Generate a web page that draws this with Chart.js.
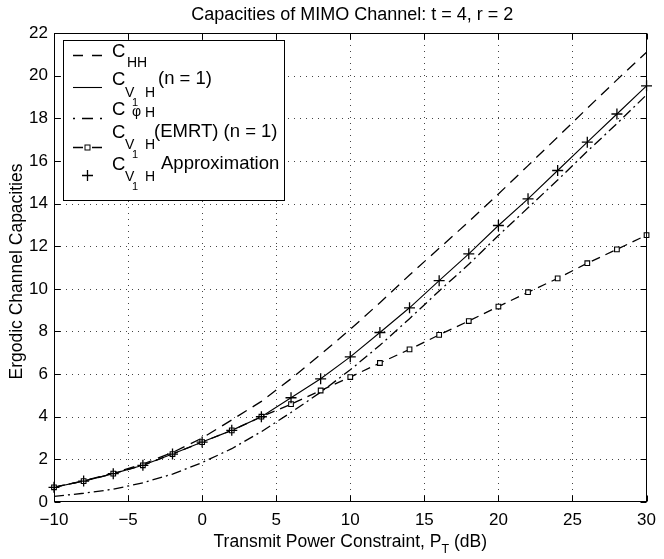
<!DOCTYPE html>
<html>
<head>
<meta charset="utf-8">
<script src="https://cdn.jsdelivr.net/npm/chart.js@4/dist/chart.umd.min.js"></script>
<style>
  html, body { margin: 0; padding: 0; background: #fff; }
  canvas { display: block; }
</style>
</head>
<body>
<canvas id="chart" width="664" height="559"></canvas>
<script>
// Transmit power constraint (dB)
const powerDb = [-10, -8, -6, -4, -2, 0, 2, 4, 6, 8, 10, 12, 14, 16, 18, 20, 22, 24, 26, 28, 30];
// Ergodic capacities of each scheme
const capHH     = [0.70, 0.99, 1.36, 1.78, 2.32, 3.00, 3.85, 4.72, 5.78, 6.92, 8.10, 9.35, 10.65, 11.90, 13.15, 14.45, 15.78, 17.12, 18.47, 19.80, 21.10];
const capV1H    = [0.69, 0.98, 1.33, 1.72, 2.25, 2.81, 3.36, 4.00, 4.89, 5.78, 6.81, 7.95, 9.11, 10.38, 11.64, 12.97, 14.22, 15.55, 16.88, 18.20, 19.52];
const capPhiH   = [0.26, 0.41, 0.60, 0.90, 1.31, 1.85, 2.50, 3.30, 4.20, 5.15, 6.20, 7.35, 8.60, 9.90, 11.15, 12.50, 13.80, 15.10, 16.45, 17.75, 19.10];
const capEMRT   = [0.69, 0.98, 1.33, 1.72, 2.25, 2.81, 3.36, 4.00, 4.59, 5.23, 5.86, 6.52, 7.16, 7.84, 8.49, 9.17, 9.84, 10.49, 11.20, 11.85, 12.52];
const capApprox = [0.69, 0.98, 1.33, 1.72, 2.25, 2.81, 3.36, 4.00, 4.89, 5.78, 6.81, 7.95, 9.11, 10.38, 11.64, 12.97, 14.22, 15.55, 16.88, 18.20, 19.52];
// Axis ticks
const xTickValues = [-10, -5, 0, 5, 10, 15, 20, 25, 30];
const yTickValues = [0, 2, 4, 6, 8, 10, 12, 14, 16, 18, 20, 22];

const FONT = '"Liberation Sans", Arial, Helvetica, sans-serif';
const pts = ys => powerDb.map((x, i) => ({ x, y: ys[i] }));

function txt(ctx, s, x, y, size) {
  ctx.font = size + 'px ' + FONT;
  ctx.fillText(s, x, y);
  return x + ctx.measureText(s).width;
}

function drawCross(ctx, x, y, r) {
  ctx.beginPath();
  ctx.moveTo(x - r, y); ctx.lineTo(x + r, y);
  ctx.moveTo(x, y - r); ctx.lineTo(x, y + r);
  ctx.stroke();
}

const framePlugin = {
  id: 'matlabFrame',
  beforeDatasetsDraw(chart) {
    const { ctx, chartArea: a, scales: { x, y } } = chart;
    ctx.save();
    ctx.strokeStyle = '#444';
    ctx.lineWidth = 1;
    ctx.setLineDash([1, 5]);
    xTickValues.slice(1, -1).forEach(v => {
      const px = Math.round(x.getPixelForValue(v)) + 0.5;
      ctx.beginPath(); ctx.moveTo(px, a.bottom); ctx.lineTo(px, a.top); ctx.stroke();
    });
    yTickValues.slice(1, -1).forEach(v => {
      const py = Math.round(y.getPixelForValue(v)) + 0.5;
      ctx.beginPath(); ctx.moveTo(a.left, py); ctx.lineTo(a.right, py); ctx.stroke();
    });
    ctx.restore();
  },
  afterDatasetsDraw(chart) {
    const { ctx, chartArea: a, scales: { x, y } } = chart;
    ctx.save();
    ctx.strokeStyle = '#000';
    ctx.lineWidth = 1;
    ctx.setLineDash([]);
    const L = Math.round(a.left) + 0.5, R = Math.round(a.right) - 0.5;
    const T = Math.round(a.top) + 0.5, B = Math.round(a.bottom) - 0.5;
    ctx.strokeRect(L, T, R - L, B - T);
    const tk = 6;
    ctx.beginPath();
    xTickValues.forEach(v => {
      const px = Math.round(x.getPixelForValue(v)) + 0.5;
      ctx.moveTo(px, B); ctx.lineTo(px, B - tk);
      ctx.moveTo(px, T); ctx.lineTo(px, T + tk);
    });
    yTickValues.forEach(v => {
      const py = Math.round(y.getPixelForValue(v)) + 0.5;
      ctx.moveTo(L, py); ctx.lineTo(L + tk, py);
      ctx.moveTo(R, py); ctx.lineTo(R - tk, py);
    });
    ctx.stroke();

    // Legend box
    const bx = 63.5, by = 40.5, bw = 221, bh = 160;
    ctx.fillStyle = '#fff';
    ctx.fillRect(bx, by, bw, bh);
    ctx.strokeRect(bx, by, bw, bh);

    const sx0 = 73, sx1 = 102, sxm = 87.5;
    ctx.lineWidth = 1.3;
    // C_HH sample: dashed
    ctx.setLineDash([10, 9]);
    ctx.beginPath(); ctx.moveTo(sx0, 55.5); ctx.lineTo(sx1, 55.5); ctx.stroke();
    // C_V1H sample: solid
    ctx.setLineDash([]);
    ctx.lineWidth = 1.1;
    ctx.beginPath(); ctx.moveTo(sx0, 87.5); ctx.lineTo(sx1, 87.5); ctx.stroke();
    // C_phiH sample: dash-dot
    ctx.lineWidth = 1.3;
    ctx.setLineDash([2, 7, 11, 7, 2, 20]);
    ctx.beginPath(); ctx.moveTo(sx0, 118.5); ctx.lineTo(sx1 + 1, 118.5); ctx.stroke();
    // EMRT sample: dashed with square
    ctx.setLineDash([]);
    ctx.beginPath();
    ctx.moveTo(sx0, 147.5); ctx.lineTo(sx0 + 10, 147.5);
    ctx.moveTo(sx1 - 10, 147.5); ctx.lineTo(sx1, 147.5);
    ctx.stroke();
    ctx.lineWidth = 1;
    ctx.fillStyle = '#fff';
    ctx.fillRect(sxm - 2.5, 145, 5, 5);
    ctx.strokeRect(sxm - 2.5, 145, 5, 5);
    // Approximation sample: plus
    ctx.lineWidth = 1.3;
    drawCross(ctx, sxm, 175.5, 5.5);

    // Legend labels
    ctx.fillStyle = '#000';
    ctx.textBaseline = 'alphabetic';
    ctx.textAlign = 'left';
    const M = 18.5, S = 14, SS = 11;
    txt(ctx, 'C', 112, 57, M);
    txt(ctx, 'HH', 127, 67, S);

    const v1h = (base, subBase, tailText, tailX) => {
      txt(ctx, 'C', 112, base, M);
      txt(ctx, 'V', 125, subBase, S);
      txt(ctx, '1', 132, subBase + 9, SS);
      txt(ctx, 'H', 145, subBase, S);
      txt(ctx, tailText, tailX, base - 1, M);
    };
    v1h(85, 97, '(n = 1)', 158);

    txt(ctx, 'C', 112, 115, M);
    txt(ctx, 'φ', 132, 116, S);
    txt(ctx, 'H', 145, 117, S);

    v1h(138, 149, '(EMRT) (n = 1)', 154);
    v1h(170, 181, 'Approximation', 161);
    ctx.restore();
  },
  afterDraw(chart) {
    const { ctx, chartArea: a } = chart;
    const cxm = (a.left + a.right) / 2;
    ctx.save();
    ctx.fillStyle = '#000';
    ctx.textBaseline = 'middle';
    ctx.textAlign = 'center';
    ctx.font = '18px ' + FONT;
    ctx.fillText('Capacities of MIMO Channel: t = 4, r = 2', cxm + 2, 15);

    // x-axis title with subscript
    ctx.textAlign = 'left';
    ctx.textBaseline = 'alphabetic';
    ctx.font = '17.5px ' + FONT;
    const p1 = 'Transmit Power Constraint, P', p3 = ' (dB)';
    const w1 = ctx.measureText(p1).width, w3 = ctx.measureText(p3).width;
    ctx.font = '12.5px ' + FONT;
    const w2 = ctx.measureText('T').width;
    let x0 = cxm - (w1 + w2 + w3) / 2;
    x0 = txt(ctx, p1, x0, 547, 17.5);
    x0 = txt(ctx, 'T', x0, 553, 12.5);
    txt(ctx, p3, x0, 547, 17.5);

    // y-axis title
    ctx.translate(17, (a.top + a.bottom) / 2 + 4);
    ctx.rotate(-Math.PI / 2);
    ctx.textAlign = 'center';
    ctx.textBaseline = 'middle';
    ctx.font = '17.5px ' + FONT;
    ctx.fillText('Ergodic Channel Capacities', 0, 0);
    ctx.restore();
  }
};

new Chart(document.getElementById('chart'), {
  type: 'line',
  data: {
    datasets: [
      {
        label: 'C_V1H Approximation',
        data: pts(capApprox),
        showLine: false,
        pointStyle: 'cross',
        pointRadius: 5.5,
        pointBorderWidth: 1.3,
        pointBorderColor: '#000',
        clip: 10
      },
      {
        label: 'C_V1H (EMRT) (n = 1)',
        data: pts(capEMRT),
        borderColor: '#000',
        borderWidth: 1.3,
        borderDash: [9, 6],
        pointStyle: 'rect',
        pointRadius: 3.3,
        pointBorderWidth: 1.1,
        pointBorderColor: '#000',
        pointBackgroundColor: '#fff',
        clip: 10
      },
      {
        label: 'C_V1H (n = 1)',
        data: pts(capV1H),
        borderColor: '#000',
        borderWidth: 1.1,
        pointRadius: 0
      },
      {
        label: 'C_phiH',
        data: pts(capPhiH),
        borderColor: '#000',
        borderWidth: 1.3,
        borderDash: [10, 4, 2, 4],
        pointRadius: 0
      },
      {
        label: 'C_HH',
        data: pts(capHH),
        borderColor: '#000',
        borderWidth: 1.3,
        borderDash: [11, 7],
        pointRadius: 0
      }
    ]
  },
  options: {
    responsive: false,
    animation: false,
    devicePixelRatio: 1,
    layout: { padding: { top: 33, right: 11, left: 0, bottom: 0 } },
    plugins: { legend: { display: false }, tooltip: { enabled: false }, title: { display: false } },
    elements: { line: { tension: 0, fill: false } },
    scales: {
      x: {
        type: 'linear',
        min: -10, max: 30,
        grid: { display: false, drawTicks: false },
        border: { display: false },
        afterBuildTicks: s => { s.ticks = xTickValues.map(v => ({ value: v })); },
        afterFit: s => { s.height = 57; },
        ticks: {
          color: '#000',
          padding: 8,
          maxRotation: 0,
          font: { family: FONT, size: 17 },
          callback: v => (v < 0 ? '\u2212' + Math.abs(v) : String(v))
        }
      },
      y: {
        type: 'linear',
        min: 0, max: 22,
        grid: { display: false, drawTicks: false },
        border: { display: false },
        afterBuildTicks: s => { s.ticks = yTickValues.map(v => ({ value: v })); },
        afterFit: s => { s.width = 54; },
        ticks: {
          color: '#000',
          padding: 6,
          font: { family: FONT, size: 17 },
          callback: v => String(v)
        }
      }
    }
  },
  plugins: [framePlugin]
});
</script>
</body>
</html>
